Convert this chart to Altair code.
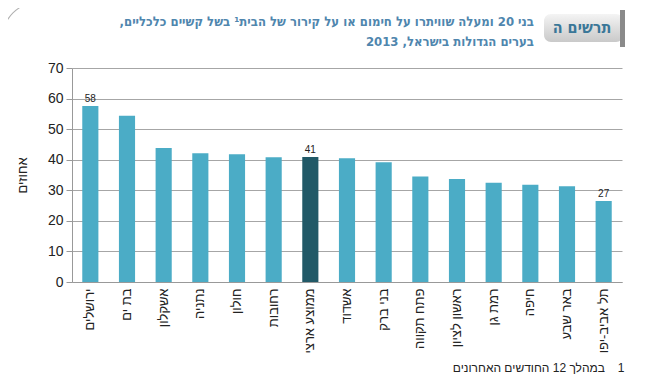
import altair as alt
import pandas as pd

cities = ["ירושלים", "בת ים", "אשקלון", "נתניה", "חולון", "רחובות", "ממוצע ארצי",
          "אשדוד", "בני ברק", "פתח תקווה", "ראשון לציון", "רמת גן", "חיפה", "באר שבע", "תל אביב-יפו"]
values = [57.6, 54.4, 43.8, 42.1, 41.8, 40.8, 40.9, 40.5, 39.2, 34.5, 33.7, 32.5, 31.8, 31.3, 26.5]
labels = ["58", "", "", "", "", "", "41", "", "", "", "", "", "", "", "27"]
groups = ["city"] * 6 + ["avg"] + ["city"] * 8

df = pd.DataFrame({"city": cities, "value": values, "label": labels, "group": groups})

RLM = "\u200f"
title_line1 = RLM + "בני 20 ומעלה שוויתרו על חימום או על קירור של הבית¹ בשל קשיים כלכליים," + RLM
title_line2 = RLM + "בערים הגדולות בישראל, 2013" + RLM
footnote = "במהלך 12 החודשים האחרונים"
box_label = "תרשים ה"

FONT = "Liberation Sans"
TFONT = "'DejaVu Sans Condensed', 'Liberation Sans', sans-serif"

x_enc = alt.X("city:N", sort=cities, title=None,
              scale=alt.Scale(paddingInner=0.56, paddingOuter=0.28),
              axis=alt.Axis(labelAngle=270, labelFontSize=13, labelFont=FONT, labelColor="#222",
                            ticks=False, domainColor="#999", labelPadding=6, labelLimit=200))
y_enc = alt.Y("value:Q", title="אחוזים",
              scale=alt.Scale(domain=[0, 70], nice=False),
              axis=alt.Axis(values=list(range(0, 71, 10)), labelOverlap=False, labelFontSize=14,
                            labelFont=FONT, grid=True,
                            labelColor="#222", tickColor="#999", tickSize=6, domainColor="#999",
                            gridColor="#a6a6a6", labelPadding=3, titleFont=FONT, titleFontSize=13,
                            titleFontWeight="normal", titleColor="#222", titlePadding=18))

base = alt.Chart(df)

bars = base.mark_bar().encode(
    x=x_enc, y=y_enc,
    color=alt.Color("group:N", scale=alt.Scale(domain=["city", "avg"], range=["#4bacc6", "#215967"]),
                    legend=None),
)

text = base.mark_text(dy=-7, fontSize=10, font=FONT, color="#222").encode(
    x=x_enc, y=y_enc, text="label:N")

deco = pd.DataFrame({"k": [0]})
box = alt.Chart(deco).mark_rect(cornerRadius=7, color={"x1": 0, "y1": 0, "x2": 0, "y2": 1,
                                                        "gradient": "linear",
                                                        "stops": [{"offset": 0, "color": "#f4f4f4"},
                                                                  {"offset": 1, "color": "#c9c9c9"}]},
                                  clip=False).encode(
    x=alt.value(472), x2=alt.value(551), y=alt.value(-54), y2=alt.value(-26))
bar_edge = alt.Chart(deco).mark_rect(color="#8a8a8a", clip=False).encode(
    x=alt.value(548), x2=alt.value(553), y=alt.value(-58), y2=alt.value(-21))
box_text = alt.Chart(deco).mark_text(font=TFONT, fontSize=16, fontWeight="bold", color="#3a7798",
                                     align="center", baseline="middle").encode(
    x=alt.value(510), y=alt.value(-40), text=alt.value(box_label))

t1 = alt.Chart(deco).mark_text(font=TFONT, fontSize=13, fontWeight="bold", color="#4f86ae",
                               align="right", baseline="middle").encode(
    x=alt.value(462), y=alt.value(-46), text=alt.value(title_line1))
t2 = alt.Chart(deco).mark_text(font=TFONT, fontSize=13, fontWeight="bold", color="#4f86ae",
                               align="right", baseline="middle").encode(
    x=alt.value(462), y=alt.value(-26), text=alt.value(title_line2))

foot1 = alt.Chart(deco).mark_text(font=FONT, fontSize=12, color="#222", align="right",
                                  baseline="middle").encode(
    x=alt.value(533), y=alt.value(300), text=alt.value(footnote))
foot2 = alt.Chart(deco).mark_text(font=FONT, fontSize=12, color="#222", align="center",
                                  baseline="middle").encode(
    x=alt.value(549), y=alt.value(300), text=alt.value("1"))

corner = alt.Chart(deco).mark_arc(color="#b0b0b0", clip=False).encode(
    x=alt.value(-34), y=alt.value(-30), theta=alt.value(4.71), theta2=alt.value(6.29),
    radius=alt.value(36), radius2=alt.value(35))

chart = alt.layer(bars, text, box, bar_edge, box_text, t1, t2, foot1, foot2, corner).properties(
    width=550, height=214,
    padding={"left": 64, "top": 60, "right": 16, "bottom": 96},
    autosize=alt.AutoSizeParams(type="none"),
).configure_view(stroke=None)

chart.save("out.html", embed_options={"renderer": "svg", "actions": False})
